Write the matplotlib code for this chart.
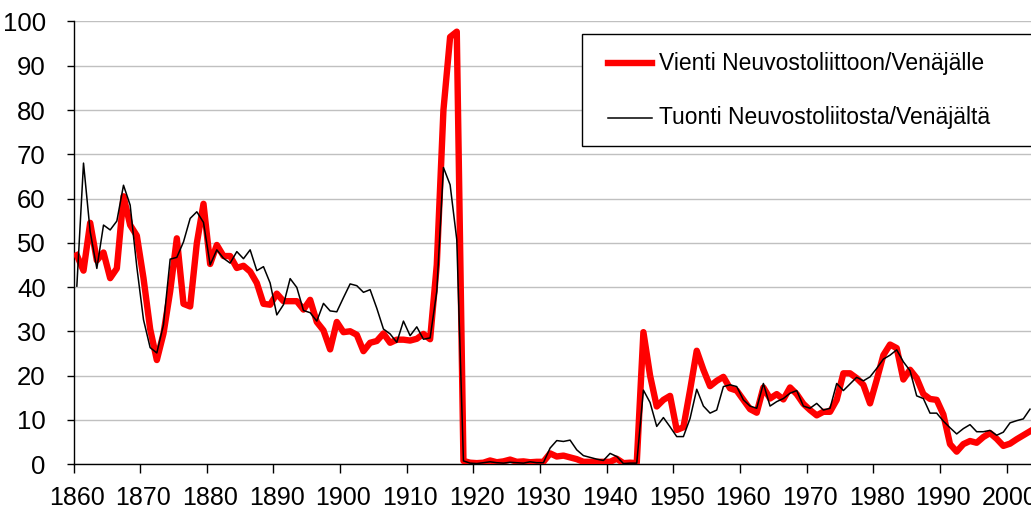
import numpy as np
import matplotlib
matplotlib.use('Agg')
import matplotlib.pyplot as plt
from matplotlib.lines import Line2D
from matplotlib.patches import Rectangle

plt.rcParams['font.family'] = ['Liberation Sans', 'DejaVu Sans']

# Share of Finnish trade with Soviet Union / Russia, %
years = np.arange(1860, 2004)

export = [
    47.2, 43.7, 54.5, 46.0, 47.8, 42.0, 44.2, 60.5, 54.0, 51.6,   # 1860-
    42.0, 30.5, 23.5, 29.5, 39.0, 51.0, 36.2, 35.6, 49.9, 58.8,   # 1870-
    45.2, 49.5, 47.0, 47.0, 44.3, 44.8, 43.5, 40.9, 36.2, 36.0,   # 1880-
    38.5, 36.8, 36.8, 36.8, 34.9, 37.1, 32.1, 30.2, 25.9, 32.1,   # 1890-
    29.8, 30.0, 29.2, 25.5, 27.4, 27.8, 29.5, 27.4, 28.1, 28.1,   # 1900-
    27.9, 28.3, 29.4, 28.2, 45.0, 80.0, 96.5, 97.7, 0.7, 0.3,     # 1910-
    0.2, 0.3, 0.8, 0.4, 0.6, 1.0, 0.5, 0.6, 0.4, 0.5,             # 1920-
    0.5, 2.4, 1.7, 1.9, 1.5, 1.1, 0.5, 0.5, 0.5, 0.5,             # 1930-
    0.5, 1.2, 0.2, 0.3, 0.2, 29.8, 20.0, 13.0, 14.5, 15.4,        # 1940-
    7.7, 8.3, 16.7, 25.6, 21.3, 17.6, 18.8, 19.7, 17.1, 16.6,     # 1950-
    14.5, 12.4, 11.6, 17.3, 14.8, 15.8, 14.6, 17.3, 15.8, 13.6,   # 1960-
    12.2, 11.0, 11.8, 11.8, 14.5, 20.5, 20.5, 19.4, 17.9, 13.7,   # 1970-
    19.0, 24.6, 27.0, 26.2, 19.1, 21.3, 19.4, 15.8, 14.7, 14.5,   # 1980-
    11.2, 4.5, 2.8, 4.5, 5.2, 4.8, 6.1, 7.0, 5.7, 4.1,            # 1990-
    4.6, 5.6, 6.5, 7.4,                                           # 2000-
]

imports = [
    40.2, 68.0, 52.5, 44.2, 54.0, 52.9, 54.9, 63.0, 58.5, 44.5,   # 1860-
    32.6, 26.3, 25.1, 31.5, 46.3, 46.7, 50.2, 55.5, 57.0, 54.6,   # 1870-
    45.0, 48.4, 46.5, 45.4, 48.0, 46.4, 48.4, 43.7, 44.6, 40.9,   # 1880-
    33.7, 36.0, 41.9, 39.9, 34.7, 34.2, 32.3, 36.3, 34.6, 34.4,   # 1890-
    37.6, 40.7, 40.3, 38.8, 39.4, 35.2, 30.5, 29.4, 27.5, 32.3,   # 1900-
    29.0, 31.0, 28.2, 28.5, 39.0, 67.0, 63.1, 50.7, 0.7, 0.2,     # 1910-
    0.1, 0.3, 0.5, 0.3, 0.2, 0.4, 0.3, 0.2, 0.5, 0.3,             # 1920-
    0.3, 3.6, 5.3, 5.1, 5.4, 3.2, 1.9, 1.5, 1.1, 0.8,             # 1930-
    2.4, 1.7, 0.1, 0.2, 0.2, 16.7, 13.9, 8.5, 10.5, 8.4,          # 1940-
    6.2, 6.2, 10.3, 16.9, 13.1, 11.5, 12.2, 17.5, 17.9, 17.5,     # 1950-
    14.5, 13.1, 12.6, 18.2, 13.1, 14.1, 14.8, 16.0, 16.6, 13.1,   # 1960-
    12.6, 13.7, 12.2, 12.6, 18.2, 16.6, 18.1, 19.6, 18.8, 19.7,   # 1970-
    21.6, 23.7, 24.6, 25.8, 23.1, 21.1, 15.4, 14.8, 11.5, 11.5,   # 1980-
    9.7, 8.2, 6.8, 8.0, 8.9, 7.3, 7.3, 7.6, 6.5, 7.2,             # 1990-
    9.3, 9.8, 10.2, 12.4,                                         # 2000-
]

label_export = 'Vienti Neuvostoliittoon/Venäjälle'
label_import = 'Tuonti Neuvostoliitosta/Venäjältä'
decades = np.arange(1860, 2001, 10)

fig = plt.figure(figsize=(10.31, 5.18), dpi=100)
ax = fig.add_axes([0.0713, 0.1042, 0.9287, 0.8543])

ax.plot(years, export, color='#ff0000', lw=4.6, solid_joinstyle='round', zorder=3)
ax.plot(years, imports, color='black', lw=1.1, zorder=4)

ax.set_xlim(1859.5, 2003.15)
ax.set_ylim(0, 100)

# y axis
ax.set_yticks(np.arange(0, 101, 10))
ax.yaxis.grid(True, color='#c0c0c0', lw=1.0)
ax.set_axisbelow(True)
ax.tick_params(axis='y', direction='out', length=5, width=1, pad=15, labelsize=18.5)

# x axis: ticks between categories, labels on the category centre
ax.set_xticks(decades - 0.5)
ax.set_xticklabels([])
ax.set_xticks(decades, minor=True)
ax.set_xticklabels([str(d) for d in decades], minor=True)
ax.tick_params(axis='x', which='major', direction='out', length=6.5, width=1)
ax.tick_params(axis='x', which='minor', length=0, pad=16, labelsize=18)

for s in ['top', 'right']:
    ax.spines[s].set_visible(False)
ax.spines['left'].set_linewidth(1)
ax.spines['bottom'].set_linewidth(1)

# legend box (runs off the right edge like the original)
ax.add_patch(Rectangle((0.531, 0.7186), 0.6, 0.2534, transform=ax.transAxes,
                       facecolor='white', edgecolor='black', lw=1, zorder=5, clip_on=False))
ax.add_line(Line2D([0.5587, 0.6042], [0.906, 0.906], transform=ax.transAxes,
                   color='#ff0000', lw=4.6, zorder=6, clip_on=False))
ax.add_line(Line2D([0.5587, 0.6042], [0.782, 0.782], transform=ax.transAxes,
                   color='black', lw=1.1, zorder=6, clip_on=False))
ax.text(0.6115, 0.906, label_export, transform=ax.transAxes, fontsize=16.5,
        va='center', ha='left', zorder=7)
ax.text(0.6115, 0.782, label_import, transform=ax.transAxes, fontsize=16.5,
        va='center', ha='left', zorder=7)

fig.savefig('out.png', dpi=100)
